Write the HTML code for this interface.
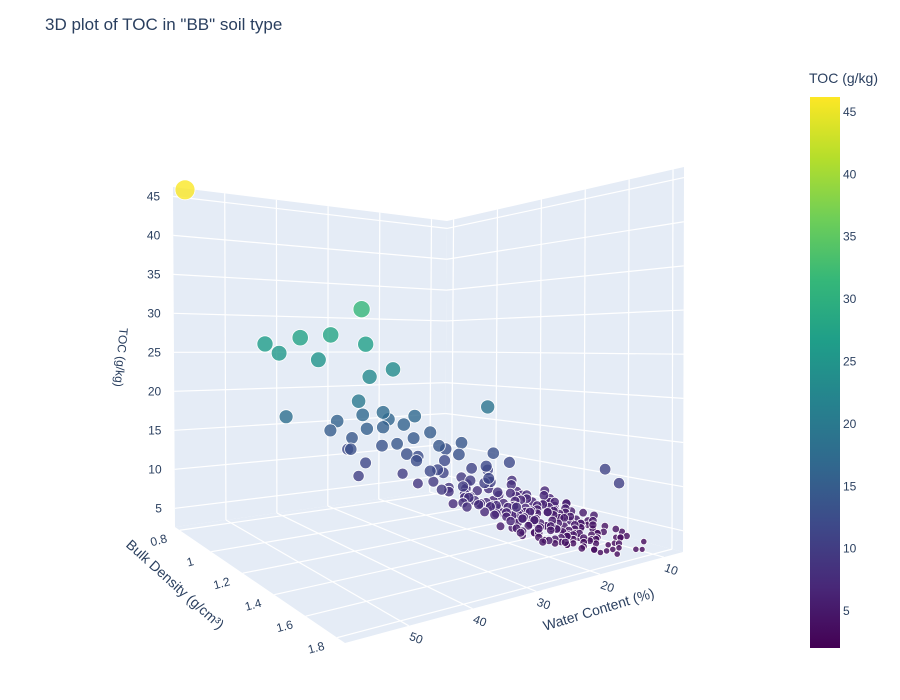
<!DOCTYPE html>
<html><head><meta charset="utf-8"><style>
html,body{margin:0;padding:0;background:#fff;}
svg{display:block;font-family:"Liberation Sans",sans-serif;}
</style></head><body>
<svg id="chart" width="900" height="700" viewBox="0 0 900 700" xmlns="http://www.w3.org/2000/svg">
<defs>
<linearGradient id="viridis" x1="0" y1="1" x2="0" y2="0">
<stop offset="0" stop-color="#440154"/><stop offset="0.111" stop-color="#482878"/><stop offset="0.222" stop-color="#3e4989"/><stop offset="0.333" stop-color="#31688e"/><stop offset="0.444" stop-color="#26828e"/><stop offset="0.556" stop-color="#1f9e89"/><stop offset="0.667" stop-color="#35b779"/><stop offset="0.778" stop-color="#6ece58"/><stop offset="0.889" stop-color="#b5de2b"/><stop offset="1" stop-color="#fde725"/>
</linearGradient>
</defs>
<text x="45" y="30" font-size="17" fill="#2a3f5f">3D plot of TOC in "BB" soil type</text>
<g id="scene"></g>
<g id="cbar">
<text x="809" y="83" font-size="14" fill="#2a3f5f">TOC (g/kg)</text>
<rect x="810" y="97" width="30" height="551" fill="url(#viridis)"/>
</g>
</svg>
<script>
const water = [
58,45,44,40,36,40,32,33,34,28,36,46,20,
30,33,28,26,35,31,29,27,24,32, 30,34,26,23,29,31,25,27,28,33,
22,24,26,21,30,36,27,25,23,29, 20,22,24,19,21,26,28,18,23,25, 9,12,
12,15,18,20,22,14,16,19,21,24, 10,13,17,23,25,11,15,18,20,26,
9,12,14,16,19,21,22,17,13,15, 11,14,18,20,23,16,19,12,24,27,
8,10,13,15,17,19,22,25,14,18, 12,16,20,21,11,13,15,17,23,9,
14,18,22,26,10,12,16,19,24,28, 9,11,13,15,17,20,18,14,12,16,
10,12,15,19,21,23,25,13,17,20, 8,11,14,16,18,22,24,13,15,19,
12,14,17,20,10,13,16,21,18,11, 9,15,19,23,12,14,17,22,26,16,
13,16,18,20,11,15,21,24,10,14, 12,17,19,22,9,13,15,18,25,20,
11,14,16,23,27,10,12,19,21,17,
10,11,12,13,14,15,16,17,18,19, 12,13,14,15,16,17,18,19,20,21,
11,13,15,17,19,21,14,16,18,20, 10,12,14,16,18,20,22,13,15,17,
12,14,16,18,20,11,13,15,17,19, 9,11,13,15,17,19,21,23,12,14
];
const bulkDensity = [
0.78,0.85,0.9,0.9,0.95,1.0,1.0,1.05,1.1,1.05,1.1,1.0,1.3,
0.95,0.9,1.0,1.05,0.92,1.0,1.1,1.0,1.05,0.95, 1.05,1.0,1.1,1.1,1.15,0.9,1.2,1.15,1.0,1.05,
1.15,1.2,1.25,1.2,1.3,1.1,1.25,1.3,1.3,1.2, 1.3,1.35,1.4,1.3,1.25,1.35,1.3,1.35,1.4,1.45, 1.55,1.7,
1.2,1.3,1.25,1.35,1.4,1.45,1.5,1.3,1.2,1.35, 1.5,1.55,1.4,1.3,1.25,1.6,1.45,1.5,1.4,1.2,
1.65,1.6,1.55,1.5,1.45,1.35,1.5,1.6,1.7,1.4, 1.55,1.5,1.45,1.55,1.4,1.65,1.35,1.4,1.3,1.15,
1.7,1.65,1.6,1.45,1.55,1.6,1.45,1.25,1.35,1.25, 1.35,1.3,1.2,1.45,1.45,1.5,1.6,1.55,1.35,1.55,
1.25,1.4,1.5,1.3,1.75,1.7,1.65,1.5,1.4,1.1, 1.45,1.35,1.4,1.6,1.35,1.25,1.55,1.65,1.5,1.7,
1.3,1.45,1.35,1.4,1.5,1.35,1.4,1.55,1.6,1.55, 1.6,1.55,1.45,1.65,1.6,1.45,1.3,1.25,1.7,1.45,
1.6,1.65,1.5,1.6,1.4,1.45,1.7,1.5,1.3,1.75, 1.5,1.35,1.5,1.55,1.45,1.55,1.35,1.25,1.35,1.55,
1.5,1.6,1.55,1.45,1.55,1.4,1.6,1.45,1.65,1.75, 1.4,1.5,1.6,1.35,1.6,1.45,1.65,1.7,1.35,1.5,
1.35,1.3,1.6,1.5,1.4,1.3,1.7,1.65,1.45,1.4,
1.5,1.55,1.6,1.45,1.5,1.55,1.6,1.5,1.45,1.5, 1.4,1.45,1.5,1.55,1.4,1.45,1.5,1.55,1.45,1.4,
1.65,1.6,1.55,1.6,1.55,1.5,1.7,1.65,1.6,1.55, 1.4,1.45,1.4,1.35,1.4,1.45,1.4,1.55,1.5,1.45,
1.6,1.55,1.5,1.45,1.35,1.5,1.45,1.4,1.45,1.5, 1.6,1.5,1.45,1.55,1.6,1.4,1.5,1.45,1.65,1.6
];
const toc = [
46,26.5,25.5,27.5,28,25,31.5,27,23,23.5,20,18,19,
17,16,17.5,16,15,15.5,14,16.5,17,14, 13.5,13,14.5,15,13,12,14,12.5,15.5,11.5,
13,12,11,14,12,10.5,11.5,13.5,10,12.5, 11,12,10.5,13,11,10,9.5,12,10.5,11.5, 11,10.5,
8,7,9,8.5,7.5,6,5,7,9.5,8, 4.5,5,6.5,8,9,4,6,5.5,7,9.5,
3.5,4,5,5.5,6,7,8,4.5,3,6.5, 5,5.5,6.5,5,7.5,4,7,6,8.5,9,
3,3.5,4,6,5,4.5,7,8.5,6.5,8, 7,7.5,8.5,6.5,5.5,5,4,5,7.5,4,
8,6,5.5,7.5,2.8,3.5,4.5,6,7,10, 5,6.5,6,4.5,6,8,5.5,4,5,3.5,
7,6,7.5,7,6.5,7.5,8,5,4.5,5.5, 3.5,4,5.5,4,4.5,6.5,8,7,3,6,
4,3.5,5,4.5,6,5.5,3.5,6.5,7.5,3, 5,7,6,5.5,5,4.5,7,8.5,8,4.5,
5.5,4.5,5,6.5,4,6,4.5,7,3.5,3, 6.5,5,4,7.5,4,5,4,4,8.5,5.5,
6,7,4,6.5,8,5.5,3,4.5,5,6,
4,4.5,3.5,5,4,4.5,3.5,5,5.5,4.5, 5.5,5,4.5,4,6,5.5,5,4,6,6.5,
3,3.5,4,3.5,4,4.5,3,3.5,4,4.5, 6,5.5,6.5,7,6,5.5,6.5,4.5,5,5.5,
3.5,4,4.5,5,6.5,4,5,5.5,5,4.5, 3,4,5,4,3.5,6,5,5.5,3,3.5
];
const tocTicks = [5,10,15,20,25,30,35,40,45];
const waterTicks = [10,20,30,40,50];
const bdTicks = [0.8,1,1.2,1.4,1.6,1.8];
const cbTicks = [5,10,15,20,25,30,35,40,45];

const NS = "http://www.w3.org/2000/svg";
const W_MIN=7, W_MAX=60, BD_MIN=0.77, BD_MAX=1.85, T_MIN=2.6, T_MAX=46.2;
const CB_MIN=2.04, CB_MAX=46.2;
const K = {B0:[445,490],L0:[175,527],R0:[683,552],F0:[345,643],B1:[447,221],L1:[173,187],R1:[684,167],F1:[345,187]};
function aOf(w){return (w-W_MIN)/(W_MAX-W_MIN);}
function bOf(d){return (d-BD_MIN)/(BD_MAX-BD_MIN);}
function cOf(t){return (t-T_MIN)/(T_MAX-T_MIN);}
function bil(a,b,B,L,R,F){
  return [(1-a)*(1-b)*B[0]+a*(1-b)*L[0]+(1-a)*b*R[0]+a*b*F[0],
          (1-a)*(1-b)*B[1]+a*(1-b)*L[1]+(1-a)*b*R[1]+a*b*F[1]];
}
function proj(a,b,c){
  const p0=bil(a,b,K.B0,K.L0,K.R0,K.F0), p1=bil(a,b,K.B1,K.L1,K.R1,K.F1);
  return [p0[0]+(p1[0]-p0[0])*c, p0[1]+(p1[1]-p0[1])*c];
}
const VIR=["#440154","#482878","#3e4989","#31688e","#26828e","#1f9e89","#35b779","#6ece58","#b5de2b","#fde725"];
function hex(h){return [parseInt(h.substr(1,2),16),parseInt(h.substr(3,2),16),parseInt(h.substr(5,2),16)];}
function colorOf(t){
  let f=Math.max(0,Math.min(1,(t-CB_MIN)/(CB_MAX-CB_MIN)))*(VIR.length-1);
  const i=Math.min(VIR.length-2,Math.floor(f)), r=f-i;
  const a=hex(VIR[i]), b=hex(VIR[i+1]);
  return "rgb("+a.map((v,k)=>Math.round(v+(b[k]-v)*r)).join(",")+")";
}
function sizeOf(t){return 2.5+7.5*Math.sqrt(Math.max(0,cOf(t)));}
function mk(tag,attrs,parent){const e=document.createElementNS(NS,tag);for(const k in attrs)e.setAttribute(k,attrs[k]);parent.appendChild(e);return e;}
const scene=document.getElementById("scene");
function poly(pts,name){
  const e=mk("polygon",{points:pts.map(p=>p.join(",")).join(" "),fill:"#e5ecf6"},scene);
  
  
}
poly([K.B0,K.L0,K.F0,K.R0],"floor-pane");
poly([K.B0,K.L0,K.L1,K.B1],"left-wall-pane");
poly([K.B0,K.R0,K.R1,K.B1],"right-wall-pane");
function line(p,q,name){
  const e=mk("line",{x1:p[0],y1:p[1],x2:q[0],y2:q[1],stroke:"#fff","stroke-width":1.2},scene);
  
  
}
function label(x,y,txt,anchor,name,rot){
  const e=mk("text",{x:x,y:y,"font-size":12,fill:"#2a3f5f","text-anchor":anchor},scene);
  if(rot)e.setAttribute("transform","rotate("+rot+" "+x+" "+y+")");
  e.textContent=txt;
  
  
}
tocTicks.forEach(t=>{const c=cOf(t);
  line(proj(0,0,c),proj(1,0,c),"toc-grid-left-"+t);
  line(proj(0,0,c),proj(0,1,c),"toc-grid-right-"+t);
  const p=proj(1,0,c); label(p[0]-13,p[1]+4,String(t),"end","toc-tick-"+t);
});
waterTicks.forEach(w=>{const a=aOf(w);
  line(proj(a,0,0),proj(a,1,0),"water-grid-floor-"+w);
  line(proj(a,0,0),proj(a,0,1),"water-grid-wall-"+w);
  const p=proj(a,1,0); label(p[0]+6,p[1]+16,String(w),"middle","water-tick-"+w,20);
});
bdTicks.forEach(d=>{const b=bOf(d);
  line(proj(0,b,0),proj(1,b,0),"bd-grid-floor-"+d);
  line(proj(0,b,0),proj(0,b,1),"bd-grid-wall-"+d);
  const p=proj(1,b,0); label(p[0]-20,p[1]+14,String(d),"middle","bd-tick-"+d,-15);
});
label(117,357,"TOC (g/kg)","middle","z-axis-title",95);
(function(){const e=mk("text",{x:0,y:0,"font-size":14,fill:"#2a3f5f","text-anchor":"middle",transform:"translate(172,588) rotate(42)"},scene);
 e.textContent="Bulk Density (g/cm³)";
 
 })();
(function(){const e=mk("text",{x:0,y:0,"font-size":14,fill:"#2a3f5f","text-anchor":"middle",transform:"translate(600,614) rotate(-17)"},scene);
 e.textContent="Water Content (%)";
 
 })();
const idx=water.map((_,i)=>i).sort((i,j)=>(aOf(water[i])+bOf(bulkDensity[i]))-(aOf(water[j])+bOf(bulkDensity[j])));
const pg=mk("g",{},scene);


idx.forEach(i=>{
  const p=proj(aOf(water[i]),bOf(bulkDensity[i]),cOf(toc[i]));
  const e=mk("circle",{cx:p[0].toFixed(1),cy:p[1].toFixed(1),r:sizeOf(toc[i]).toFixed(1),fill:colorOf(toc[i]),"fill-opacity":0.8,stroke:"#fff","stroke-width":0.8},pg);
  
  
});
const cb=document.getElementById("cbar");
cbTicks.forEach(t=>{
  const y=648-(t-CB_MIN)/(CB_MAX-CB_MIN)*551;
  const e=mk("text",{x:843,y:(y+4).toFixed(1),"font-size":12,fill:"#2a3f5f"},cb);
  e.textContent=String(t);
  
  
});
</script>
</body></html>
